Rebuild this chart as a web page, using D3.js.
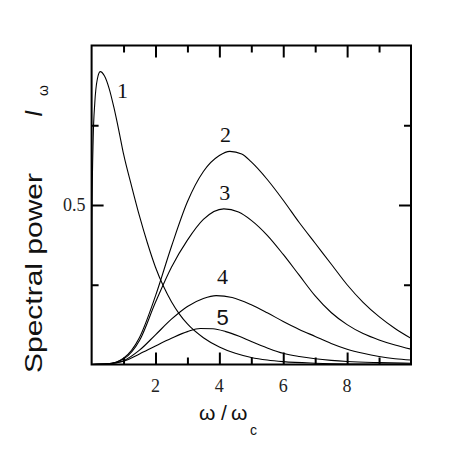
<!DOCTYPE html>
<meta charset="utf-8">
<style>
  body { margin: 0; background: #fff; }
  svg { display: block; }
</style>
<body>
<div id="chart"></div>
<script src="https://d3js.org/d3.v7.min.js"></script>
<script>

var w = 456, h = 456;

// curve 1 : steep peak near 0.3
var curve1 = [[0,0],[0.01,0.45],[0.05,0.71],[0.1,0.82],[0.18,0.895],[0.27,0.918],[0.4,0.905],[0.55,0.865],
  [0.7,0.805],[0.85,0.735],[1.0,0.66],[1.25,0.56],[1.5,0.465],[1.75,0.38],[2.0,0.305],[2.25,0.245],[2.5,0.197],
  [2.75,0.158],[3.0,0.127],[3.5,0.084],[4.0,0.055],[4.5,0.035],[5.0,0.022],[5.5,0.014],[6.0,0.009],[7.0,0.004],[8.0,0.0015],[10,0.0003]];
// curves 2..5 : broad humps near 4
var curve2 = [[0,0],[0.5,0.002],[1.0,0.02],[1.5,0.085],[2.0,0.215],[2.5,0.37],[3.0,0.51],[3.5,0.605],
  [4.0,0.655],[4.33,0.668],[4.7,0.66],[5.0,0.635],[5.5,0.58],[6.0,0.515],[6.5,0.445],[7.0,0.38],[7.5,0.315],
  [8.0,0.25],[8.5,0.195],[9.0,0.15],[9.5,0.113],[10,0.082]];
var curve3 = [[0,0],[0.5,0.002],[1.0,0.017],[1.5,0.075],[2.0,0.195],[2.5,0.305],[3.0,0.39],[3.5,0.455],
  [4.14,0.488],[4.6,0.478],[5.0,0.452],[5.5,0.405],[6.0,0.345],[6.5,0.28],[7.0,0.215],[7.5,0.163],
  [8.0,0.125],[8.5,0.097],[9.0,0.077],[9.5,0.061],[10,0.048]];
var curve4 = [[0,0],[0.5,0.002],[1.0,0.012],[1.5,0.045],[2.0,0.093],[2.5,0.142],[3.0,0.182],[3.5,0.207],
  [3.9,0.216],[4.4,0.21],[5.0,0.187],[5.5,0.162],[6.0,0.135],[6.5,0.11],[7.0,0.088],[7.5,0.066],
  [8.0,0.048],[8.5,0.035],[9.0,0.025],[9.5,0.018],[10,0.014]];
var curve5 = [[0,0],[0.5,0.002],[1.0,0.01],[1.5,0.033],[2.0,0.058],[2.5,0.082],[3.0,0.103],[3.4,0.113],
  [3.8,0.112],[4.2,0.103],[4.6,0.089],[5.0,0.072],[5.5,0.052],[6.0,0.035],[6.5,0.025],[7.0,0.018],
  [7.5,0.013],[8.0,0.0095],[9.0,0.006],[10,0.004]];

var curves = [curve1, curve2, curve3, curve4, curve5];
var curveNames = ["1", "2", "3", "4", "5"];
// label anchor in data units (omega, I)
var labelX = [0.97, 4.19, 4.17, 4.1, 4.1];
var labelY = [0.836, 0.699, 0.517, 0.253, 0.124];

var xTicks = [1, 2, 3, 4, 5, 6, 7, 8, 9];
var xTickLabels = [2, 4, 6, 8];
var yTicks = [0.25, 0.5, 0.75];
var yTickLabels = [0.5];

var svg = d3.select("#chart")
    .append("svg")
    .attr("width", w)
    .attr("height", h);

var x = d3.scaleLinear().domain([0, 10]).range([91.6, 411]);
var y = d3.scaleLinear().domain([0, 1]).range([364.5, 45.5]);

svg.append("defs").append("clipPath")
    .attr("id", "clip")
    .append("rect")
    .attr("x", x(0)).attr("y", y(1))
    .attr("width", x(10) - x(0)).attr("height", y(0) - y(1));

var line = d3.line()
    .x(function(d) { return x(d[0]); })
    .y(function(d) { return y(d[1]); })
    .curve(d3.curveMonotoneX);

svg.append("g")
    .attr("clip-path", "url(#clip)")
    .selectAll("path")
    .data(curves)
    .enter()
    .append("path")
    .attr("d", line)
    .attr("fill", "none")
    .attr("stroke", "#000")
    .attr("stroke-width", 1.1);

// axes, ticks pointing inward
function styleAxis(g, major, isX, flip) {
    g.select(".domain").remove();
    g.selectAll(".tick line")
        .attr("stroke", "#000")
        .attr("stroke-width", 2)
        .attr(isX ? "y2" : "x2", function(d) {
            var len = major(d) ? 12 : 7;
            return flip ? len : -len;
        });
    g.selectAll(".tick text").remove();
}

var isMajorX = function(d) { return d % 2 === 0; };
var isMajorY = function(d) { return d === 0.5; };

svg.append("g").attr("transform", "translate(0," + y(0) + ")")
    .call(d3.axisBottom(x).tickValues(xTicks))
    .call(styleAxis, isMajorX, true, false);
svg.append("g").attr("transform", "translate(0," + y(1) + ")")
    .call(d3.axisTop(x).tickValues(xTicks))
    .call(styleAxis, isMajorX, true, true);
svg.append("g").attr("transform", "translate(" + x(0) + ",0)")
    .call(d3.axisLeft(y).tickValues(yTicks))
    .call(styleAxis, isMajorY, false, true);
svg.append("g").attr("transform", "translate(" + x(10) + ",0)")
    .call(d3.axisRight(y).tickValues(yTicks))
    .call(styleAxis, isMajorY, false, false);

// frame
svg.append("rect")
    .attr("x", x(0)).attr("y", y(1))
    .attr("width", x(10) - x(0)).attr("height", y(0) - y(1))
    .attr("fill", "none")
    .attr("stroke", "#000")
    .attr("stroke-width", 2);

// tick labels
svg.selectAll(".xlab")
    .data(xTickLabels)
    .enter()
    .append("text")
    .attr("class", "xlab")
    .text(function(d) { return d; })
    .attr("x", function(d) { return x(d); })
    .attr("y", 392)
    .attr("text-anchor", "middle")
    .attr("font-family", "Liberation Serif")
    .attr("font-size", 18)
    .attr("fill", "#222");

svg.selectAll(".ylab")
    .data(yTickLabels)
    .enter()
    .append("text")
    .attr("class", "ylab")
    .text(function(d) { return d; })
    .attr("x", 85.5)
    .attr("y", function(d) { return y(d) + 6; })
    .attr("text-anchor", "end")
    .attr("font-family", "Liberation Serif")
    .attr("font-size", 18)
    .attr("fill", "#222");

// curve labels
svg.selectAll(".clab")
    .data(curveNames)
    .enter()
    .append("text")
    .attr("class", "clab")
    .text(function(d) { return d; })
    .attr("x", function(d, i) { return x(labelX[i]); })
    .attr("y", function(d, i) { return y(labelY[i]); })
    .attr("text-anchor", "middle")
    .attr("font-family", function(d) { return d === "5" ? "Liberation Sans" : "Liberation Serif"; })
    .attr("font-size", 22)
    .attr("fill", "#111");

// x title
var xt = svg.append("text")
    .attr("y", 420)
    .attr("font-family", "Liberation Sans")
    .attr("font-size", 21)
    .attr("fill", "#111");
xt.append("tspan").attr("x", 199).text("ω");
xt.append("tspan").attr("x", 221).text("/");
xt.append("tspan").attr("x", 231).text("ω");
xt.append("tspan").attr("x", 250).attr("y", 435).attr("font-size", 14).text("c");

// y title
var yt = svg.append("g").attr("transform", "translate(41.7,0) rotate(-90)");
yt.append("text")
    .attr("x", -373)
    .attr("y", 0)
    .attr("font-family", "Liberation Sans")
    .attr("font-size", 24)
    .attr("textLength", 200)
    .attr("lengthAdjust", "spacingAndGlyphs")
    .attr("fill", "#111")
    .text("Spectral power");
yt.append("text")
    .attr("x", -117)
    .attr("y", 0)
    .attr("font-family", "Liberation Sans")
    .attr("font-style", "italic")
    .attr("font-size", 24)
    .attr("fill", "#111")
    .text("I");
yt.append("text")
    .attr("x", -96)
    .attr("y", 6)
    .attr("font-family", "Liberation Sans")
    .attr("font-size", 14)
    .attr("fill", "#111")
    .text("ω");
</script>
</body>
